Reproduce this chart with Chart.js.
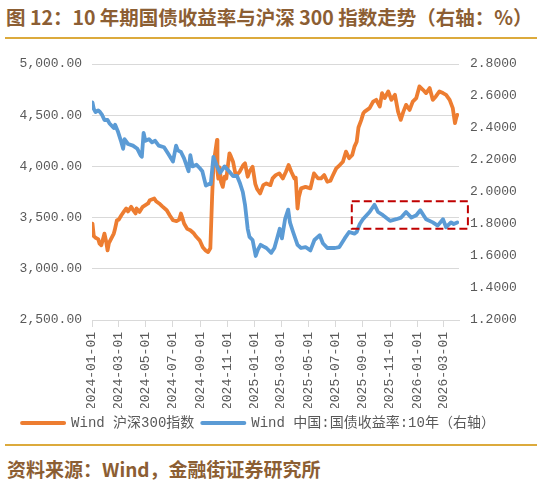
<!DOCTYPE html>
<html>
<head>
<meta charset="utf-8">
<script src="https://cdn.jsdelivr.net/npm/chart.js@4.4.1/dist/chart.umd.min.js"></script>
<style>
  html, body { margin: 0; padding: 0; background: #fff; }
  body { width: 541px; height: 485px; position: relative; overflow: hidden; font-family: "Noto Sans CJK SC", sans-serif; }
  .title { position: absolute; left: 6px; top: 2px; font-size: 19.5px; font-weight: bold; color: #8c5e33; white-space: nowrap; }
  .rule { position: absolute; left: 5px; width: 532px; height: 2px; background: #dcaa3c; }
  #wrap { position: absolute; left: 0; top: 40px; width: 541px; height: 400px; }
  .source { position: absolute; left: 7px; top: 455px; font-size: 19px; font-weight: bold; color: #8c5e33; white-space: nowrap; }
</style>
</head>
<body>
<div class="title">图 12：10 年期国债收益率与沪深 300 指数走势（右轴：%）</div>
<div class="rule" style="top:37px"></div>
<div id="wrap"><canvas id="chart" width="541" height="400"></canvas></div>
<div class="rule" style="top:444px"></div>
<div class="source">资料来源：Wind，金融街证券研究所</div>
<script>
// CSI 300 index (left axis)
const csiDates = [
  "2024-01-02", "2024-01-05", "2024-01-10", "2024-01-15", "2024-01-18", "2024-01-22", "2024-01-25", "2024-01-29",
  "2024-02-02", "2024-02-05", "2024-02-08", "2024-02-19", "2024-02-21", "2024-02-26", "2024-03-01", "2024-03-07",
  "2024-03-13", "2024-03-18", "2024-03-22", "2024-03-29", "2024-04-03", "2024-04-08", "2024-04-10", "2024-04-17",
  "2024-04-24", "2024-05-06", "2024-05-10", "2024-05-20", "2024-05-24", "2024-05-31", "2024-06-07", "2024-06-17",
  "2024-06-24", "2024-07-01", "2024-07-09", "2024-07-15", "2024-07-19", "2024-07-22", "2024-07-26", "2024-08-02",
  "2024-08-09", "2024-08-16", "2024-08-20", "2024-08-23", "2024-08-30", "2024-09-06", "2024-09-12", "2024-09-18",
  "2024-09-23", "2024-09-25", "2024-09-27", "2024-09-30", "2024-10-08", "2024-10-09", "2024-10-11", "2024-10-14",
  "2024-10-17", "2024-10-21", "2024-10-25", "2024-10-29", "2024-11-05", "2024-11-08", "2024-11-13", "2024-11-19",
  "2024-11-22", "2024-11-28", "2024-12-06", "2024-12-10", "2024-12-16", "2024-12-20", "2024-12-27", "2025-01-02",
  "2025-01-06", "2025-01-13", "2025-01-20", "2025-01-27", "2025-02-05", "2025-02-10", "2025-02-17", "2025-02-25",
  "2025-03-05", "2025-03-12", "2025-03-18", "2025-03-24", "2025-03-31", "2025-04-03", "2025-04-07", "2025-04-10",
  "2025-04-15", "2025-04-25", "2025-05-06", "2025-05-14", "2025-05-23", "2025-05-30", "2025-06-06", "2025-06-13",
  "2025-06-20", "2025-06-24", "2025-07-03", "2025-07-11", "2025-07-18", "2025-07-25", "2025-08-01", "2025-08-08",
  "2025-08-13", "2025-08-18", "2025-08-22", "2025-08-28", "2025-09-02", "2025-09-05", "2025-09-16", "2025-09-24",
  "2025-10-01", "2025-10-09", "2025-10-14", "2025-10-20", "2025-10-28", "2025-11-04", "2025-11-12", "2025-11-19",
  "2025-11-25", "2025-12-01", "2025-12-07", "2025-12-15", "2025-12-22", "2025-12-30", "2026-01-06", "2026-01-14",
  "2026-01-21", "2026-01-29", "2026-02-05", "2026-02-12", "2026-02-20", "2026-02-28", "2026-03-07", "2026-03-15",
  "2026-03-22", "2026-03-27", "2026-03-30", "2026-04-01"
];
const csiValues = [
  3442, 3320, 3300, 3290, 3246, 3230, 3278, 3344,
  3262, 3180, 3250, 3344, 3376, 3474, 3480, 3523,
  3560, 3589, 3560, 3605, 3570, 3540, 3589, 3556,
  3605, 3638, 3670, 3687, 3660, 3638, 3610, 3572,
  3520, 3474, 3465, 3480, 3540, 3500, 3442, 3390,
  3376, 3350, 3327, 3310, 3278, 3210, 3180, 3164,
  3200, 3450, 3700, 4017, 4258, 3950, 3880, 3990,
  3850, 3800, 3900, 3883, 4128, 4100, 4046, 3915,
  3920, 3948, 4013, 4030, 3899, 3950, 3996, 3830,
  3780, 3736, 3817, 3834, 3817, 3883, 3915, 3932,
  3883, 3948, 4013, 3948, 3883, 3890, 3589, 3700,
  3785, 3800, 3785, 3932, 3883, 3883, 3915, 3850,
  3860, 3899, 3981, 4013, 4046, 4144, 4080, 4111,
  4193, 4240, 4380, 4450, 4520, 4535, 4569, 4633,
  4650, 4585, 4716, 4667, 4732, 4650, 4699, 4535,
  4454, 4535, 4601, 4552, 4633, 4667, 4781, 4748,
  4716, 4765, 4650, 4683, 4732, 4716, 4699, 4650,
  4569, 4422, 4480, 4503
];

// China 10Y government bond yield, % (right axis)
const yieldDates = [
  "2024-01-02", "2024-01-05", "2024-01-09", "2024-01-15", "2024-01-19", "2024-01-24", "2024-01-29", "2024-02-05",
  "2024-02-09", "2024-02-19", "2024-02-22", "2024-02-28", "2024-03-06", "2024-03-11", "2024-03-14", "2024-03-22",
  "2024-04-02", "2024-04-12", "2024-04-19", "2024-04-22", "2024-04-26", "2024-04-30", "2024-05-08", "2024-05-15",
  "2024-05-22", "2024-05-30", "2024-06-11", "2024-06-20", "2024-07-01", "2024-07-08", "2024-07-12", "2024-07-19",
  "2024-07-26", "2024-08-05", "2024-08-09", "2024-08-14", "2024-08-23", "2024-08-30", "2024-09-05", "2024-09-13",
  "2024-09-20", "2024-09-24", "2024-09-30", "2024-10-08", "2024-10-15", "2024-10-25", "2024-11-04", "2024-11-13",
  "2024-11-22", "2024-11-28", "2024-12-05", "2024-12-10", "2024-12-16", "2024-12-20", "2024-12-27", "2025-01-03",
  "2025-01-08", "2025-01-14", "2025-01-20", "2025-01-27", "2025-02-07", "2025-02-14", "2025-02-20", "2025-02-26",
  "2025-03-03", "2025-03-10", "2025-03-17", "2025-03-21", "2025-03-28", "2025-04-07", "2025-04-15", "2025-04-25",
  "2025-05-06", "2025-05-15", "2025-05-27", "2025-06-03", "2025-06-13", "2025-06-30", "2025-07-10", "2025-07-22",
  "2025-08-01", "2025-08-13", "2025-08-18", "2025-08-25", "2025-09-01", "2025-09-16", "2025-09-27", "2025-10-05",
  "2025-10-16", "2025-11-01", "2025-11-15", "2025-11-26", "2025-12-07", "2025-12-19", "2025-12-30", "2026-01-08",
  "2026-01-21", "2026-02-05", "2026-02-16", "2026-02-28", "2026-03-07", "2026-03-18", "2026-03-24", "2026-04-01"
];
const yieldValues = [
  2.56, 2.52, 2.50, 2.51, 2.50, 2.48, 2.45, 2.45,
  2.43, 2.40, 2.42, 2.38, 2.32, 2.27, 2.33, 2.30,
  2.29, 2.27, 2.23, 2.22, 2.37, 2.32, 2.33, 2.31,
  2.32, 2.29, 2.28, 2.24, 2.19, 2.29, 2.26, 2.25,
  2.21, 2.13, 2.23, 2.16, 2.17, 2.15, 2.13, 2.04,
  2.05, 2.05, 2.22, 2.16, 2.12, 2.16, 2.13, 2.10,
  2.10, 2.06, 2.00, 1.92, 1.77, 1.72, 1.70, 1.60,
  1.64, 1.67, 1.66, 1.65, 1.62, 1.65, 1.71, 1.77,
  1.71, 1.83, 1.89, 1.81, 1.75, 1.67, 1.65, 1.656,
  1.635, 1.70, 1.73, 1.68, 1.65, 1.65, 1.656, 1.71,
  1.75, 1.74, 1.75, 1.80, 1.83, 1.875, 1.92, 1.875,
  1.855, 1.82, 1.83, 1.84, 1.875, 1.84, 1.855, 1.886,
  1.83, 1.81, 1.79, 1.83, 1.78, 1.81, 1.80, 1.81
];

// x axis: every two months
const tickDates = [
  "2024-01-01", "2024-03-01", "2024-05-01", "2024-07-01", "2024-09-01", "2024-11-01", "2025-01-01",
  "2025-03-01", "2025-05-01", "2025-07-01", "2025-09-01", "2025-11-01", "2026-01-01", "2026-03-01"
];
const axisEnd = "2026-04-05";

// red dashed highlight box (dates / right-axis values)
const boxDates = ["2025-08-07", "2026-04-25"];
const boxYields = [1.771, 1.942];

const DAY0 = Date.UTC(2024, 0, 1);
const toDay = (s) => (Date.parse(s) - DAY0) / 86400000;

const tickFont = { family: "'Liberation Mono', 'Noto Sans CJK SC', monospace", size: 13 };
const legendFont = { family: "'Liberation Mono', 'Noto Sans CJK SC', monospace", size: 14 };

const dashBox = {
    id: "dashBox",
    afterDatasetsDraw(chart) {
        const { ctx, scales } = chart;
        const left = scales.x.getPixelForValue(toDay(boxDates[0]));
        const right = scales.x.getPixelForValue(toDay(boxDates[1]));
        const top = scales.y1.getPixelForValue(boxYields[1]);
        const bottom = scales.y1.getPixelForValue(boxYields[0]);
        ctx.save();
        ctx.strokeStyle = "#c00000";
        ctx.lineWidth = 2;
        ctx.setLineDash([8, 4]);
        ctx.strokeRect(left, top, right - left, bottom - top);
        ctx.restore();
    },
};

new Chart(document.getElementById("chart"), {
    type: "line",
    data: {
        datasets: [
            {
                label: "Wind 沪深300指数",
                data: csiDates.map((d, i) => ({ x: toDay(d), y: csiValues[i] })),
                yAxisID: "y",
                borderColor: "#ed7d31",
                backgroundColor: "#ed7d31",
                order: 1,
            },
            {
                label: "Wind 中国:国债收益率:10年（右轴）",
                data: yieldDates.map((d, i) => ({ x: toDay(d), y: yieldValues[i] })),
                yAxisID: "y1",
                borderColor: "#5b9bd5",
                backgroundColor: "#5b9bd5",
                order: 0,
            },
        ],
    },
    options: {
        responsive: false,
        animation: false,
        devicePixelRatio: 1,
        layout: { padding: { top: 24, right: 24, left: 0, bottom: 0 } },
        elements: {
            line: { borderWidth: 3.8, tension: 0, borderJoinStyle: "round", borderCapStyle: "round" },
            point: { radius: 0 },
        },
        scales: {
            x: {
                type: "linear",
                min: 0,
                max: toDay(axisEnd),
                afterBuildTicks: (scale) => {
                    scale.ticks = tickDates.map((d) => ({ value: toDay(d) }));
                },
                afterFit: (scale) => { scale.height = 88; },
                ticks: {
                    callback: (value, index) => tickDates[index],
                    autoSkip: false,
                    minRotation: 90,
                    maxRotation: 90,
                    padding: 5,
                    color: "#595959",
                    font: tickFont,
                },
                grid: { drawOnChartArea: false, drawTicks: true, tickLength: 7, color: "#d9d9d9" },
                border: { color: "#d9d9d9" },
            },
            y: {
                position: "left",
                min: 2500,
                max: 5000,
                afterFit: (scale) => { scale.width = 92; },
                ticks: {
                    stepSize: 500,
                    padding: 10,
                    color: "#595959",
                    font: tickFont,
                    callback: (v) => v.toLocaleString("en-US", { minimumFractionDigits: 2, maximumFractionDigits: 2 }),
                },
                grid: { color: "#d9d9d9", drawTicks: false },
                border: { display: false },
            },
            y1: {
                position: "right",
                min: 1.2,
                max: 2.8,
                afterFit: (scale) => { scale.width = 541 - 24 - 459; },
                ticks: {
                    stepSize: 0.2,
                    padding: 11,
                    color: "#595959",
                    font: tickFont,
                    callback: (v) => v.toFixed(4),
                },
                grid: { drawOnChartArea: false, drawTicks: false },
                border: { display: false },
            },
        },
        plugins: {
            legend: {
                position: "bottom",
                labels: {
                    usePointStyle: true,
                    pointStyle: "line",
                    pointStyleWidth: 42,
                    padding: 8,
                    color: "#595959",
                    font: legendFont,
                    sort: (a, b) => a.datasetIndex - b.datasetIndex,
                    generateLabels: (chart) =>
                        Chart.defaults.plugins.legend.labels.generateLabels(chart).map((item) => ({
                            ...item,
                            lineWidth: 4,
                            lineCap: "round",
                            pointStyle: "line",
                        })),
                },
            },
            tooltip: { enabled: false },
        },
    },
    plugins: [dashBox],
});
</script>
</body>
</html>
